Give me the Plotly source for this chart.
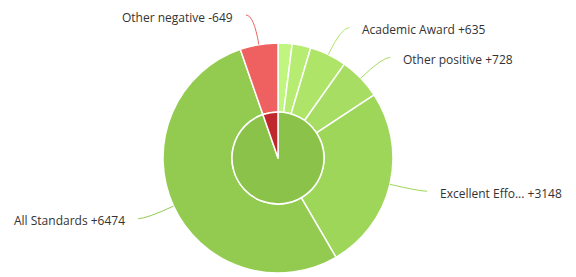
import math
import plotly.graph_objects as go

# ---- data ----
outer_labels = ["Other positive A", "Other positive B", "Academic Award", "Other positive",
                "Excellent Effo...", "All Standards", "Other negative"]
outer_values = [240, 320, 635, 728, 3148, 6474, 649]
outer_signs = [1, 1, 1, 1, 1, 1, -1]
outer_show_label = [False, False, True, True, True, True, True]
outer_colors = ["#C0F57F", "#B6EC71", "#AEE569", "#A6DD62", "#9ED65A", "#93CB51", "#EF6161"]
line_colors = ["#B6EC71", "#B6EC71", "#AEE569", "#A6DD62", "#9ED65A", "#93CB51", "#EF6161"]

inner_labels = ["Positive", "Negative"]
inner_values = [sum(v for v, s in zip(outer_values, outer_signs) if s > 0),
                sum(v for v, s in zip(outer_values, outer_signs) if s < 0)]
inner_colors = ["#8BC34A", "#C0272D"]

# ---- layout geometry (page has an 8px body margin) ----
W, H = 576, 277
OFF = 8
CX, CY, R_OUT, R_IN = 278 - OFF, 158 - OFF, 115, 46


def dom(r):
    return dict(x=[(CX - r) / W, (CX + r) / W], y=[1 - (CY + r) / H, 1 - (CY - r) / H])


fig = go.Figure()
fig.add_trace(go.Pie(
    values=outer_values, labels=outer_labels, sort=False, direction="clockwise", rotation=0,
    hole=R_IN / R_OUT, domain=dom(R_OUT), textinfo="none", showlegend=False,
    marker=dict(colors=outer_colors, line=dict(color="white", width=1.5)),
))
fig.add_trace(go.Pie(
    values=inner_values, labels=inner_labels, sort=False, direction="clockwise", rotation=0,
    domain=dom(R_IN), textinfo="none", showlegend=False,
    marker=dict(colors=inner_colors, line=dict(color="white", width=1.5)),
))

# ---- leader lines and labels ----
total = sum(outer_values)
shapes, annotations = [], []
acc = 0
L1, L2, GAP = 30, 8, 11
for lab, v, s, show, lc in zip(outer_labels, outer_values, outer_signs, outer_show_label, line_colors):
    mid = (acc + v / 2) / total * 2 * math.pi
    acc += v
    if not show:
        continue
    dx, dy = math.sin(mid), -math.cos(mid)
    x0, y0 = CX + R_OUT * dx, CY + R_OUT * dy
    cx, cy = CX + (R_OUT + L1) * dx, CY + (R_OUT + L1) * dy
    side = 1 if dx >= 0 else -1
    ex, ey = cx + side * L2, cy
    path = "M {:.4f},{:.4f} Q {:.4f},{:.4f} {:.4f},{:.4f}".format(
        x0 / W, 1 - y0 / H, cx / W, 1 - cy / H, ex / W, 1 - ey / H)
    shapes.append(dict(type="path", path=path, xref="paper", yref="paper",
                       line=dict(color=lc, width=1)))
    text = "{} {}{}".format(lab, "+" if s > 0 else "-", v)
    annotations.append(dict(
        x=(ex + side * GAP) / W, y=1 - (ey + 2) / H, xref="paper", yref="paper",
        text=text, showarrow=False, xanchor="left" if side > 0 else "right", yanchor="middle",
        font=dict(family="Open Sans", size=12, color="#333333")))

fig.update_layout(
    width=W, height=H, margin=dict(l=0, r=0, t=0, b=0),
    paper_bgcolor="white", plot_bgcolor="white",
    shapes=shapes, annotations=annotations, showlegend=False,
)
fig.write_html("out.html")
